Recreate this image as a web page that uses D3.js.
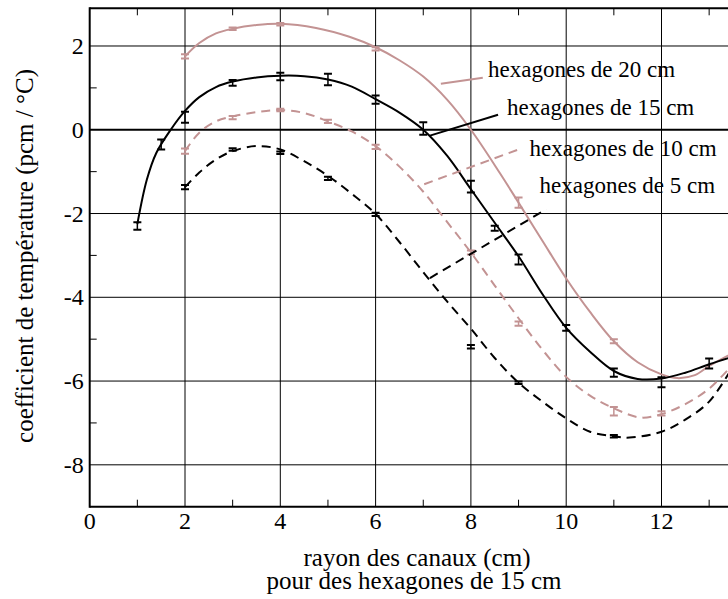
<!DOCTYPE html>
<html>
<head>
<meta charset="utf-8">
<script src="https://cdn.jsdelivr.net/npm/d3@7/dist/d3.min.js"></script>
<style>
  html, body { margin: 0; padding: 0; background: #fff; }
  svg { display: block; }
  text { font-family: "Liberation Serif", "Times New Roman", serif; fill: #000; }
</style>
</head>
<body>
<svg id="chart" width="728" height="599"></svg>
<script>
// Temperature coefficient vs channel radius, four hexagon sizes.
const seriesNames = ["hexagones de 20 cm", "hexagones de 15 cm", "hexagones de 10 cm", "hexagones de 5 cm"];
const seriesColors = ["#c39393", "#000000", "#c39393", "#000000"];
const seriesDashed = [false, false, true, true];

// Measured points (x, value, error)
const ptsX20 = [2, 3, 4, 6, 9, 11];
const ptsY20 = [1.75, 2.41, 2.52, 1.93, -1.74, -5.05];
const ptsE20 = [0.05, 0.03, 0.03, 0.04, 0.12, 0.05];

const ptsX15 = [1, 1.5, 2, 3, 4, 5, 6, 7, 8, 8.5, 9, 10, 11, 12, 13];
const ptsY15 = [-2.3, -0.35, 0.3, 1.12, 1.27, 1.2, 0.72, 0.03, -1.36, -2.35, -3.1, -4.73, -5.8, -6.03, -5.58];
const ptsE15 = [0.09, 0.12, 0.13, 0.07, 0.09, 0.14, 0.1, 0.15, 0.14, 0.06, 0.12, 0.07, 0.1, 0.12, 0.12];

const ptsX10 = [2, 3, 4, 5, 6, 8, 9, 11, 12];
const ptsY10 = [-0.51, 0.29, 0.47, 0.2, -0.41, -2.93, -4.63, -6.72, -6.77];
const ptsE10 = [0.06, 0.04, 0.03, 0.04, 0.05, 0.05, 0.05, 0.1, 0.05];

const ptsX5 = [2, 3, 4, 5, 6, 8, 9, 11];
const ptsY5 = [-1.37, -0.47, -0.55, -1.16, -2.02, -5.18, -6.04, -7.32];
const ptsE5 = [0.05, 0.03, 0.03, 0.04, 0.04, 0.04, 0.03, 0.03];

// Fitted curves
const fitX20 = [2.0, 2.3, 2.65, 3.0, 3.5, 4.0, 4.75, 5.45, 6.0, 6.5, 7.0, 7.5, 8.0, 8.6, 9.0, 9.5, 10.0, 10.5, 11.0, 11.5, 12.0, 12.33, 12.7, 13.0, 13.5];
const fitY20 = [1.75, 2.07, 2.3, 2.41, 2.5, 2.53, 2.43, 2.22, 1.97, 1.66, 1.27, 0.72, 0.0, -1.02, -1.74, -2.65, -3.55, -4.35, -5.05, -5.55, -5.84, -5.93, -5.86, -5.64, -5.33];

const fitX15 = [1.0, 1.2, 1.4, 1.7, 2.0, 2.3, 2.65, 3.0, 3.5, 4.0, 4.5, 5.0, 5.5, 6.0, 6.5, 7.0, 7.5, 8.0, 8.5, 9.0, 9.5, 10.0, 10.5, 11.0, 11.5, 12.0, 12.5, 13.0, 13.5];
const fitY15 = [-2.25, -1.19, -0.55, 0.0, 0.45, 0.78, 1.02, 1.15, 1.25, 1.29, 1.28, 1.2, 1.03, 0.73, 0.41, 0.0, -0.62, -1.42, -2.22, -3.02, -3.92, -4.73, -5.3, -5.76, -5.95, -5.94, -5.8, -5.6, -5.42];

const fitX10 = [2.0, 2.3, 2.65, 3.0, 3.5, 4.0, 4.5, 5.0, 5.5, 6.0, 6.5, 7.0, 7.5, 8.0, 8.5, 9.0, 9.5, 10.0, 10.5, 11.0, 11.55, 12.0, 12.5, 13.0, 13.5];
const fitY10 = [-0.51, -0.07, 0.2, 0.32, 0.42, 0.47, 0.4, 0.2, -0.04, -0.39, -0.88, -1.48, -2.2, -2.93, -3.72, -4.5, -5.25, -5.9, -6.35, -6.65, -6.87, -6.79, -6.55, -6.18, -5.6];

const fitX5 = [2.0, 2.3, 2.65, 3.0, 3.5, 4.0, 4.5, 5.0, 5.5, 6.0, 6.5, 7.0, 7.5, 8.0, 8.5, 9.0, 9.5, 10.0, 10.5, 11.0, 11.33, 12.0, 12.5, 13.0, 13.5];
const fitY5 = [-1.37, -1.02, -0.71, -0.51, -0.39, -0.47, -0.75, -1.1, -1.53, -2.01, -2.68, -3.4, -4.1, -4.75, -5.45, -6.04, -6.49, -6.89, -7.21, -7.32, -7.35, -7.21, -6.92, -6.49, -5.65];

// Axis ticks
const xMajorTicks = [0, 2, 4, 6, 8, 10, 12, 14];
const xTickLabels = [0, 2, 4, 6, 8, 10, 12];
const xMinorTicks = [1, 3, 5, 7, 9, 11, 13];
const yMajorTicks = [2, 0, -2, -4, -6, -8];
const yMinorTicks = [1, -1, -3, -5, -7];

// Label leaders: from (x0,y0) to (x1,y1), text anchored at (tx,ty)
const leadX0 = [7.37, 7.14, 7.02, 7.14];
const leadY0 = [1.10, -0.14, -1.30, -3.54];
const leadX1 = [8.25, 8.57, 9.00, 9.58];
const leadY1 = [1.24, 0.36, -0.47, -1.90];
const labelX = [8.36, 8.76, 9.23, 9.44];
const labelY = [1.26, 0.36, -0.63, -1.50];

const xTitle1 = "rayon des canaux (cm)";
const xTitle2 = "pour des hexagones de 15 cm";
const yTitle = "coefficient de température (pcm / °C)";

const margin = { left: 89.7, top: 8.3, bottom: 506.7 };
const x = d3.scaleLinear().domain([0, 14]).range([margin.left, margin.left + 14 * 47.65]);
const y = d3.scaleLinear().domain([-9, 2.9]).range([margin.bottom, margin.top]);

const svg = d3.select("#chart");

svg.append("defs").append("clipPath").attr("id", "plotclip")
  .append("rect")
  .attr("x", x(0)).attr("y", y(2.9))
  .attr("width", x(14) - x(0)).attr("height", y(-9) - y(2.9));

const grid = svg.append("g");
// vertical grid
grid.selectAll("line.vg").data(xMajorTicks.filter(d => d > 0)).join("line")
  .attr("x1", d => x(d)).attr("x2", d => x(d))
  .attr("y1", y(2.9)).attr("y2", y(-9))
  .attr("stroke", "#000").attr("stroke-width", 1);
// horizontal grid
grid.selectAll("line.hg").data(yMajorTicks.filter(d => d !== 0)).join("line")
  .attr("x1", x(0)).attr("x2", x(14))
  .attr("y1", d => y(d)).attr("y2", d => y(d))
  .attr("stroke", "#000").attr("stroke-width", 1);
// zero line
grid.append("line")
  .attr("x1", x(0)).attr("x2", x(14))
  .attr("y1", y(0)).attr("y2", y(0))
  .attr("stroke", "#000").attr("stroke-width", 2);

// minor ticks
const tickLen = 7;
grid.selectAll("line.xb").data(xMinorTicks).join("line")
  .attr("x1", d => x(d)).attr("x2", d => x(d))
  .attr("y1", y(-9)).attr("y2", y(-9) - tickLen)
  .attr("stroke", "#000").attr("stroke-width", 1);
grid.selectAll("line.xt").data(xMinorTicks).join("line")
  .attr("x1", d => x(d)).attr("x2", d => x(d))
  .attr("y1", y(2.9)).attr("y2", y(2.9) + tickLen)
  .attr("stroke", "#000").attr("stroke-width", 1);
grid.selectAll("line.yl").data(yMinorTicks).join("line")
  .attr("x1", x(0)).attr("x2", x(0) + tickLen)
  .attr("y1", d => y(d)).attr("y2", d => y(d))
  .attr("stroke", "#000").attr("stroke-width", 1);

// frame: left, top, bottom
const frame = svg.append("g").attr("stroke", "#000").attr("stroke-width", 2);
frame.append("line").attr("x1", x(0)).attr("x2", x(0)).attr("y1", y(2.9) - 1).attr("y2", y(-9) + 1);
frame.append("line").attr("x1", x(0)).attr("x2", x(14)).attr("y1", y(2.9)).attr("y2", y(2.9));
frame.append("line").attr("x1", x(0)).attr("x2", x(14)).attr("y1", y(-9)).attr("y2", y(-9));

// tick labels
svg.append("g").selectAll("text").data(xTickLabels).join("text")
  .attr("x", d => x(d)).attr("y", y(-9) + 22)
  .attr("text-anchor", "middle").attr("font-size", 24)
  .text(d => d);
svg.append("g").selectAll("text").data(yMajorTicks).join("text")
  .attr("x", x(0) - 6).attr("y", d => y(d)).attr("dy", "0.34em")
  .attr("text-anchor", "end").attr("font-size", 24)
  .text(d => d);

// titles
svg.append("text").attr("x", 417).attr("y", 566).attr("text-anchor", "middle")
  .attr("font-size", 25).text(xTitle1);
svg.append("text").attr("x", 414).attr("y", 589).attr("text-anchor", "middle")
  .attr("font-size", 25).text(xTitle2);
svg.append("text").attr("transform", "translate(33,256) rotate(-90)")
  .attr("text-anchor", "middle").attr("font-size", 25).text(yTitle);

// curves
const fits = [
  { xs: fitX20, ys: fitY20 },
  { xs: fitX15, ys: fitY15 },
  { xs: fitX10, ys: fitY10 },
  { xs: fitX5, ys: fitY5 }
];
const pts = [
  { xs: ptsX20, ys: ptsY20, es: ptsE20 },
  { xs: ptsX15, ys: ptsY15, es: ptsE15 },
  { xs: ptsX10, ys: ptsY10, es: ptsE10 },
  { xs: ptsX5, ys: ptsY5, es: ptsE5 }
];
const line = d3.line().x(d => x(d[0])).y(d => y(d[1])).curve(d3.curveCatmullRom.alpha(0.5));
const dash = "9,6";

const plot = svg.append("g").attr("clip-path", "url(#plotclip)");
fits.forEach((f, i) => {
  plot.append("path")
    .datum(f.xs.map((v, j) => [v, f.ys[j]]))
    .attr("d", line)
    .attr("fill", "none")
    .attr("stroke", seriesColors[i])
    .attr("stroke-width", 2)
    .attr("stroke-dasharray", seriesDashed[i] ? dash : null);
});

// error bars
const cap = 4;
pts.forEach((p, i) => {
  const g = plot.append("g").attr("stroke", seriesColors[i]).attr("stroke-width", 2);
  p.xs.forEach((v, j) => {
    const top = y(p.ys[j] + p.es[j]), bot = y(p.ys[j] - p.es[j]), cx = x(v);
    g.append("line").attr("x1", cx).attr("x2", cx).attr("y1", top).attr("y2", bot).attr("stroke-width", 1.5);
    g.append("line").attr("x1", cx - cap).attr("x2", cx + cap).attr("y1", top).attr("y2", top);
    g.append("line").attr("x1", cx - cap).attr("x2", cx + cap).attr("y1", bot).attr("y2", bot);
  });
});

// labels with leader lines
seriesNames.forEach((name, i) => {
  svg.append("line")
    .attr("x1", x(leadX0[i])).attr("y1", y(leadY0[i]))
    .attr("x2", x(leadX1[i])).attr("y2", y(leadY1[i]))
    .attr("stroke", seriesColors[i]).attr("stroke-width", 2)
    .attr("stroke-dasharray", seriesDashed[i] ? dash : null);
  svg.append("text")
    .attr("x", x(labelX[i])).attr("y", y(labelY[i]))
    .attr("font-size", 23)
    .text(name);
});
</script>
</body>
</html>
